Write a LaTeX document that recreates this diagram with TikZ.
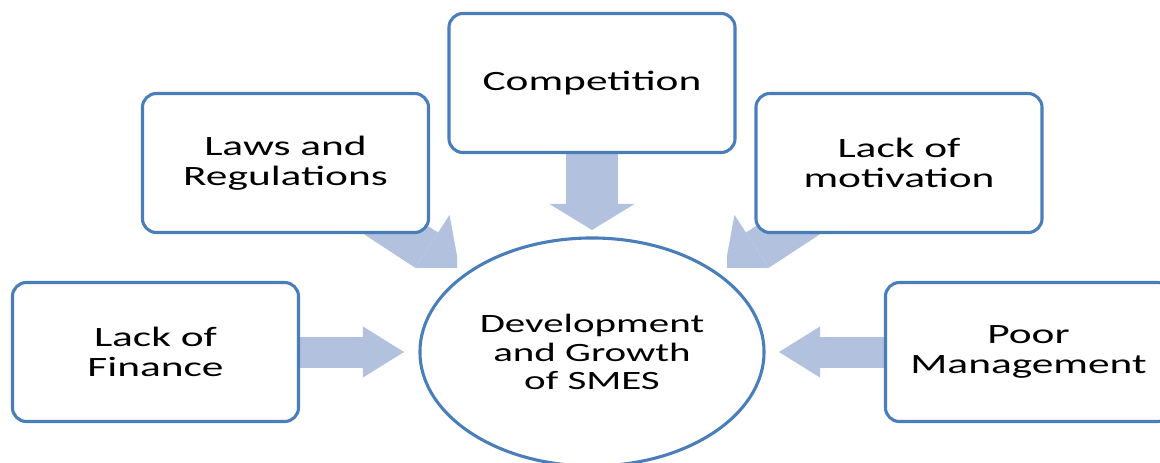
\documentclass[tikz,border=0pt]{standalone}
\usepackage{fontspec}
\setmainfont{Carlito}[FakeStretch=1.55]
\usepackage{tikz}
\usetikzlibrary{shapes.geometric, arrows.meta, positioning, backgrounds}

\definecolor{edgeblue}{RGB}{74,126,187}
\definecolor{arrowblue}{RGB}{178,193,222}

\begin{document}
\begin{tikzpicture}[
    x=0.025cm, y=-0.025cm,
    factor/.style={rectangle, draw=edgeblue, line width=2.2pt, fill=white, rounded corners=0.35cm, minimum width=7.15cm, minimum height=3.475cm, align=center, inner sep=0pt, font=\fontsize{19.9}{21.7}\selectfont},
    goal/.style={ellipse, draw=edgeblue, line width=2.2pt, fill=white, minimum width=8.6cm, minimum height=5.7cm, align=center, inner sep=0pt, font=\fontsize{18.8}{20.3}\selectfont},
    harrow/.style={arrowblue, line width=0.775cm, -{Triangle[length=1.025cm, width=1.275cm, line width=0pt]}},
    varrow/.style={arrowblue, line width=1.3cm, -{Triangle[length=0.65cm, width=2.125cm, line width=0pt]}},
    darrow/.style={arrowblue, line width=1.05cm, -{Triangle[length=1cm, width=2.1cm, line width=0pt]}},
]
\useasboundingbox (0,0) rectangle (1160,462);

% feet and tips of the slanted arrows
\coordinate (lawsFoot) at (376,217);
\coordinate (lawsTip) at (460,272);
\coordinate (motivFoot) at (808,217);
\coordinate (motivTip) at (724,272);

\node[factor] (finance) at (155.5,352) {Lack of\\Finance};
\node[factor] (laws) at (285.5,163) {Laws and\\Regulations};
\node[factor] (comp) at (592,83) {Competition};
\node[factor] (motiv) at (899,163) {Lack of\\motivation};
\node[factor] (mgmt) at (1028.5,352) {Poor\\Management};
\node[goal] (smes) at (592,352) {Development\\and Growth\\of SMES};

% arrows go under the boxes
\begin{scope}[on background layer]
\begin{scope}
\clip (0,0) rectangle (457,267);
\draw[darrow] (lawsFoot) -- (lawsTip);
\end{scope}
\begin{scope}
\clip (727,0) rectangle (1160,267);
\draw[darrow] (motivFoot) -- (motivTip);
\end{scope}
\draw[varrow] (comp.south) -- (592,230);
\draw[harrow] (finance.east) -- (404,352);
\draw[harrow] (mgmt.west) -- (779,352);
\end{scope}

\end{tikzpicture}
\end{document}
